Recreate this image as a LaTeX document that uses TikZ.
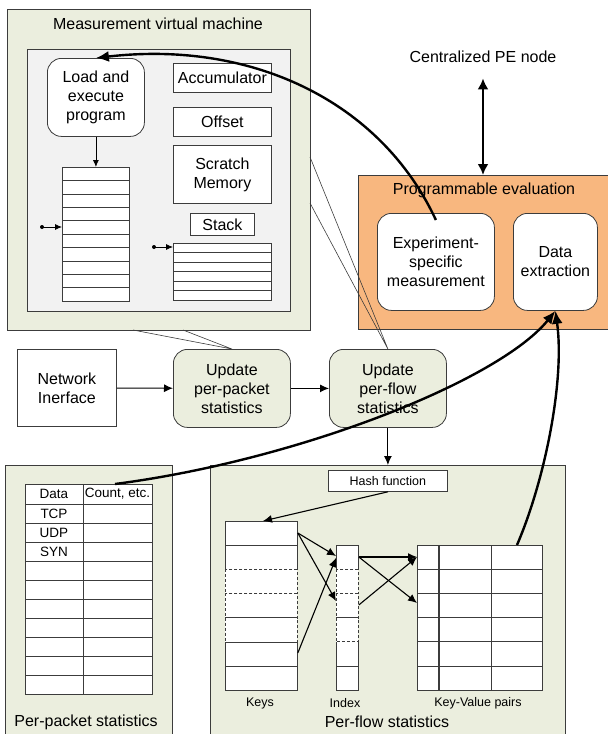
\documentclass[tikz,border=0pt]{standalone}
\usepackage{fontspec}
\setmainfont{Liberation Sans}
\usetikzlibrary{arrows.meta, positioning, calc}
\definecolor{vert}{RGB}{235,238,222}
\definecolor{grisclair}{RGB}{242,242,242}
\definecolor{peche}{RGB}{248,183,127}
\definecolor{trait}{RGB}{60,60,60}
\tikzset{
  boite/.style={draw=trait, fill=white, line width=0.8pt, inner sep=0pt, anchor=north west},
  arrondi/.style={boite, rounded corners=14pt, align=center},
  fleche/.style={-{Latex[length=9pt,width=8pt]}, line width=1.1pt},
  grosse/.style={-{Latex[length=13pt,width=11pt]}, line width=2.4pt},
  petit/.style={font=\fontsize{12.5}{14}\selectfont},
  tableau/.style={font=\fontsize{13.5}{15}\selectfont},
}

\begin{document}
\begin{tikzpicture}[x=1pt, y=-1pt, font=\fontsize{16}{19}\selectfont]
\path[use as bounding box, clip] (0,0) rectangle (608,734);

% machine virtuelle de mesure
\node[boite, fill=vert, minimum width=303pt, minimum height=321pt] (vm) at (7,9) {};
\node (vmtitre) at (158,24) {Measurement virtual machine};
\node[boite, fill=grisclair, minimum width=263pt, minimum height=262pt] (vmint) at (27,49) {};
\node[arrondi, minimum width=97pt, minimum height=78pt] (charge) at (47,58) {Load and\\execute\\program};
\node[boite, minimum width=98pt, minimum height=29pt] (acc) at (173,63) {Accumulator};
\node[boite, minimum width=98pt, minimum height=29pt] (offset) at (173,107) {Offset};
\node[boite, minimum width=98pt, minimum height=58pt, align=center] (scratch) at (173,145) {Scratch\\Memory};
\node[boite, minimum width=64pt, minimum height=22pt] (stacklbl) at (190,213) {Stack};
\node[boite, minimum width=67pt, minimum height=134pt] (prog) at (62,167) {};
\foreach \i in {1,...,9} \draw[trait] ($(prog.north west)+(0,\i*13.4)$) -- ++(67,0);
\node[boite, minimum width=98pt, minimum height=57pt] (pile) at (173,243) {};
\foreach \i in {1,...,5} \draw[trait] ($(pile.north west)+(0,\i*9.5)$) -- ++(98,0);
\draw[-{Latex[length=7pt,width=6pt]}, line width=0.8pt] (charge.south) -- (prog.north);
% pointeurs
\coordinate (ptrprog) at (42,227);
\coordinate (ptrpile) at (154,247);
\fill (ptrprog) circle (2pt);
\fill (ptrpile) circle (2pt);
\draw[-{Latex[length=7pt,width=6pt]}, line width=0.8pt] (ptrprog) -- (ptrprog -| prog.west);
\draw[-{Latex[length=7pt,width=6pt]}, line width=0.8pt] (ptrpile) -- (ptrpile -| pile.west);

% evaluation programmable
\node (cpe) at (483,57) {Centralized PE node};
\node[boite, fill=peche, minimum width=252pt, minimum height=154pt] (eval) at (358,175) {};
\node (evaltitre) at (484,190) {Programmable evaluation};
\node[arrondi, minimum width=117pt, minimum height=97pt] (exp) at (377,213) {Experiment-\\specific\\measurement};
\node[arrondi, minimum width=84pt, minimum height=97pt] (extract) at (513,213) {Data\\extraction};
\draw[{Latex[length=11pt,width=11pt]}-{Latex[length=11pt,width=11pt]}, line width=2.4pt]
  ([yshift=-12pt]cpe.south) -- (cpe.south |- eval.north);

% ligne du milieu
\node[boite, minimum width=99pt, minimum height=77pt, align=center] (ni) at (17,349) {Network\\Inerface};
\node[arrondi, fill=vert, minimum width=117pt, minimum height=78pt] (pkt) at (173,349) {Update\\per-packet\\statistics};
\node[arrondi, fill=vert, minimum width=117pt, minimum height=78pt] (flow) at (329,349) {Update\\per-flow\\statistics};
\draw[fleche] (ni) -- (pkt);
\draw[fleche] (pkt) -- (flow);
\coordinate (vmb1) at (133,330);
\coordinate (vmb2) at (183,330);
\coordinate (vmd1) at (310,157);
\coordinate (vmd2) at (310,203);
\draw[trait, line width=0.6pt] (vmb1) -- (pkt.north) -- (vmb2);
\draw[trait, line width=0.6pt] (vmd1) -- (flow.north) -- (vmd2);
\draw[grosse] ([yshift=-7pt]exp.north) .. controls (380,100) and (250,40) .. (charge.north);

% statistiques par paquet
\node[boite, fill=vert, minimum width=167pt, minimum height=290pt] (pps) at (5,465) {};
\node (ppstitre) at (86,722) {Per-packet statistics};
\node[boite, minimum width=127pt, minimum height=210pt] (tab) at (25,484) {};
\draw[trait] ($(tab.north west)+(58,0)$) -- ++(0,210);
\foreach \i in {0,...,9} \draw[trait] ($(tab.north west)+(0,20+\i*19)$) -- ++(127,0);
\node[tableau] (tdata) at (54,494) {Data};
\node[tableau] (tcount) at (117.5,494) {Count, etc.};
\node[tableau] (ttcp) at (54,513.5) {TCP};
\node[tableau] (tudp) at (54,532.5) {UDP};
\node[tableau] (tsyn) at (54,551.5) {SYN};

% statistiques par flux
\node[boite, fill=vert, minimum width=355pt, minimum height=290pt] (pfs) at (210,465) {};
\node (pfstitre) at (387,722) {Per-flow statistics};
\node[boite, petit, minimum width=119pt, minimum height=21pt] (hash) at (328,470) {Hash function};
\node[boite, minimum width=72pt, minimum height=169pt, draw=none] (keys) at (225,521) {};
\foreach \i/\s in {0/solid,1/solid,5/solid,6/solid,2/densely dashed,3/densely dashed,4/densely dashed}
  \draw[trait, \s, fill=white] ($(keys.north west)+(0,\i*24.14)$) rectangle ++(72,24.14);
\node[boite, minimum width=22pt, minimum height=145pt, draw=none] (idx) at (336,545) {};
\foreach \i/\s in {0/solid,4/solid,5/solid,1/densely dashed,2/densely dashed,3/densely dashed}
  \draw[trait, \s, fill=white] ($(idx.north west)+(0,\i*24.17)$) rectangle ++(22,24.17);
\node[boite, minimum width=125pt, minimum height=145pt] (kv) at (417,545) {};
\foreach \i in {1,...,5} \draw[trait] ($(kv.north west)+(0,\i*24.17)$) -- ++(125,0);
\draw[trait, line width=1.4pt] ($(kv.north west)+(22,0)$) -- ++(0,145);
\draw[trait] ($(kv.north west)+(74,0)$) -- ++(0,145);
\node[petit] (lkeys) at (260,703) {Keys};
\node[petit] (lidx) at (345,703) {Index};
\node[petit] (lkv) at (478,703) {Key-Value pairs};
\draw[fleche] (flow.south) -- (pfs.north);
\draw[fleche] (hash.south) -- ($(keys.north west)+(38,0)$);
% liens cles -> index -> paires
\coordinate (k1) at ($(keys.north east)+(0,12)$);
\coordinate (k6) at ($(keys.north east)+(0,132)$);
\coordinate (i1g) at ($(idx.north west)+(0,11)$);
\coordinate (i3g) at ($(idx.north west)+(0,56)$);
\coordinate (i1d) at ($(idx.north east)+(0,12)$);
\coordinate (i3d) at ($(idx.north east)+(0,60)$);
\coordinate (kv1) at ($(kv.north west)+(0,12)$);
\coordinate (kv3) at ($(kv.north west)+(0,58)$);
\draw[fleche] (k1) -- (i1g);
\draw[fleche] (k1) -- (i3g);
\draw[fleche] (k6) -- ([yshift=-2pt]i1g);
\draw[fleche] (i1d) -- (kv1);
\draw[fleche] (i1d) -- (kv3);
\draw[fleche] (i3d) -- (kv1);

% vers l'extraction
\draw[grosse] ($(tab.north west)+(90,0)$) .. controls (300,460) and (500,380) .. (extract.south);
\draw[grosse] ($(kv.north west)+(100,0)$) .. controls (545,480) and (565,380) .. (extract.south);
\end{tikzpicture}
\end{document}
